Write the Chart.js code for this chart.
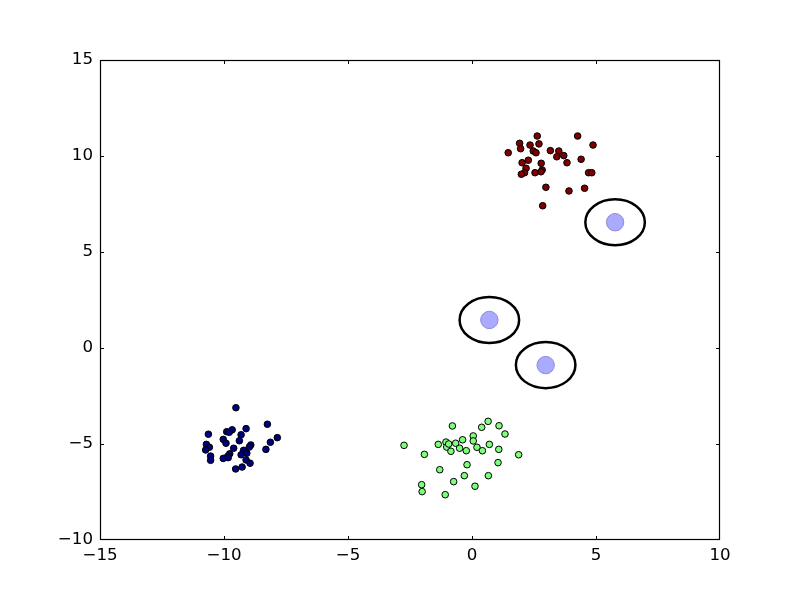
<!DOCTYPE html>
<html>
<head>
<meta charset="utf-8">
<script src="https://cdn.jsdelivr.net/npm/chart.js@4/dist/chart.umd.min.js"></script>
<style>
html,body{margin:0;padding:0;background:#fff;}
#wrap{width:800px;height:600px;}
</style>
</head>
<body>
<div id="wrap"><canvas id="c" width="800" height="600"></canvas></div>
<script>
const redX=[2.63,4.26,1.92,2.70,4.88,2.34,1.96,1.46,2.47,2.58,3.16,3.50,3.42,3.70,3.83,4.40,2.02,2.27,2.79,2.18,2.83,2.78,2.12,1.99,2.54,4.70,4.83,2.98,3.91,4.54,2.85];
const redY=[11.04,11.04,10.66,10.63,10.57,10.57,10.38,10.17,10.26,10.17,10.28,10.26,9.96,10.02,9.65,9.83,9.65,9.78,9.62,9.36,9.27,9.18,9.13,9.05,9.13,9.13,9.13,8.37,8.18,8.32,7.41];
const blueX=[-9.52,-8.25,-10.63,-9.89,-9.67,-9.79,-9.11,-9.31,-7.85,-8.13,-10.03,-9.92,-9.38,-10.71,-10.59,-10.74,-9.61,-8.92,-8.98,-9.21,-8.31,-9.77,-9.85,-9.31,-9.08,-10.54,-10.54,-10.03,-9.83,-9.11,-8.95,-9.27,-9.53];
const blueY=[-3.11,-3.97,-4.49,-4.36,-4.26,-4.39,-4.20,-4.52,-4.67,-4.91,-4.76,-4.96,-4.83,-5.02,-5.17,-5.31,-5.22,-5.05,-5.16,-5.33,-5.28,-5.51,-5.64,-5.56,-5.48,-5.63,-5.85,-5.75,-5.71,-5.83,-6.00,-6.20,-6.30];
const greenX=[-2.74,-1.92,-0.79,0.39,0.65,1.09,1.33,-1.36,-1.05,-1.02,-0.94,-0.85,-0.66,-0.50,-0.38,-0.23,0.05,0.05,0.20,0.42,0.70,1.08,1.88,1.05,-0.20,-1.30,-0.31,0.66,-0.74,0.12,-2.03,-2.01,-1.08];
const greenY=[-5.07,-5.54,-4.06,-4.13,-3.82,-4.05,-4.48,-5.02,-4.90,-5.16,-5.00,-5.38,-4.96,-5.22,-4.78,-5.35,-4.58,-4.84,-5.17,-5.35,-5.02,-5.28,-5.56,-5.97,-6.08,-6.34,-6.65,-6.65,-6.96,-7.20,-7.12,-7.48,-7.64];
const centerX=[5.77,0.70,2.97];
const centerY=[6.55,1.46,-0.89];
const ringRadius=1.2;
const xTicks=[-15,-10,-5,0,5,10];
const yTicks=[-10,-5,0,5,10,15];

const pts=(xs,ys)=>xs.map((x,i)=>({x:x,y:ys[i]}));
const fmt=v=>String(v).replace('-','\u2212');

const framePlugin={
  id:'frame',
  afterDatasetsDraw(chart){
    const ctx=chart.ctx, a=chart.chartArea, sx=chart.scales.x, sy=chart.scales.y;
    ctx.save();
    ctx.strokeStyle='#000';
    ctx.lineWidth=2.5;
    centerX.forEach((cx,i)=>{
      const px=sx.getPixelForValue(cx), py=sy.getPixelForValue(centerY[i]);
      const rx=Math.abs(sx.getPixelForValue(cx+ringRadius)-px);
      const ry=Math.abs(sy.getPixelForValue(centerY[i]+ringRadius)-py);
      ctx.beginPath();
      ctx.ellipse(px,py,rx,ry,0,0,Math.PI*2);
      ctx.stroke();
    });
    ctx.lineWidth=1.2;
    ctx.strokeRect(a.left+0.5,a.top+0.5,a.right-a.left-1,a.bottom-a.top-1);
    const L=4;
    const clampX=p=>Math.min(Math.max(Math.round(p),a.left),a.right-1)+0.5;
    const clampY=p=>Math.min(Math.max(Math.round(p),a.top),a.bottom-1)+0.5;
    ctx.lineWidth=1;
    ctx.beginPath();
    xTicks.forEach(v=>{
      const p=clampX(sx.getPixelForValue(v));
      ctx.moveTo(p,a.bottom);ctx.lineTo(p,a.bottom-L);
      ctx.moveTo(p,a.top);ctx.lineTo(p,a.top+L);
    });
    yTicks.forEach(v=>{
      const p=clampY(sy.getPixelForValue(v));
      ctx.moveTo(a.left,p);ctx.lineTo(a.left+L,p);
      ctx.moveTo(a.right,p);ctx.lineTo(a.right-L,p);
    });
    ctx.stroke();
    ctx.restore();
  }
};

const dotStyle={pointRadius:3.3,borderColor:'#000',borderWidth:1,pointHoverRadius:3.3};
new Chart(document.getElementById('c'),{
  type:'scatter',
  data:{datasets:[
    Object.assign({label:'c0',data:pts(blueX,blueY),backgroundColor:'#00007f'},dotStyle),
    Object.assign({label:'c1',data:pts(greenX,greenY),backgroundColor:'#7dff7a'},dotStyle),
    Object.assign({label:'c2',data:pts(redX,redY),backgroundColor:'#7f0000'},dotStyle),
    {label:'centers',data:pts(centerX,centerY),backgroundColor:'#aaaaff',borderColor:'#8c8cd6',borderWidth:1,pointRadius:8.7,pointHoverRadius:8.7}
  ]},
  options:{
    responsive:false,animation:false,
    layout:{padding:{left:40,right:80,top:60,bottom:25}},
    plugins:{legend:{display:false},tooltip:{enabled:false}},
    scales:{
      x:{type:'linear',min:-15,max:10,
        afterBuildTicks(s){s.ticks=xTicks.map(v=>({value:v}));},
        afterFit(s){s.height=35;},
        grid:{display:false,drawTicks:false},border:{display:false},
        ticks:{color:'#000',padding:6,font:{family:'DejaVu Sans',size:16.67},callback:v=>fmt(v),maxRotation:0}},
      y:{type:'linear',min:-10,max:15,
        afterBuildTicks(s){s.ticks=yTicks.map(v=>({value:v}));},
        afterFit(s){s.width=60;},
        grid:{display:false,drawTicks:false},border:{display:false},
        ticks:{color:'#000',padding:7,font:{family:'DejaVu Sans',size:16.67},callback:v=>fmt(v)}}
    }
  },
  plugins:[framePlugin]
});
</script>
</body>
</html>
